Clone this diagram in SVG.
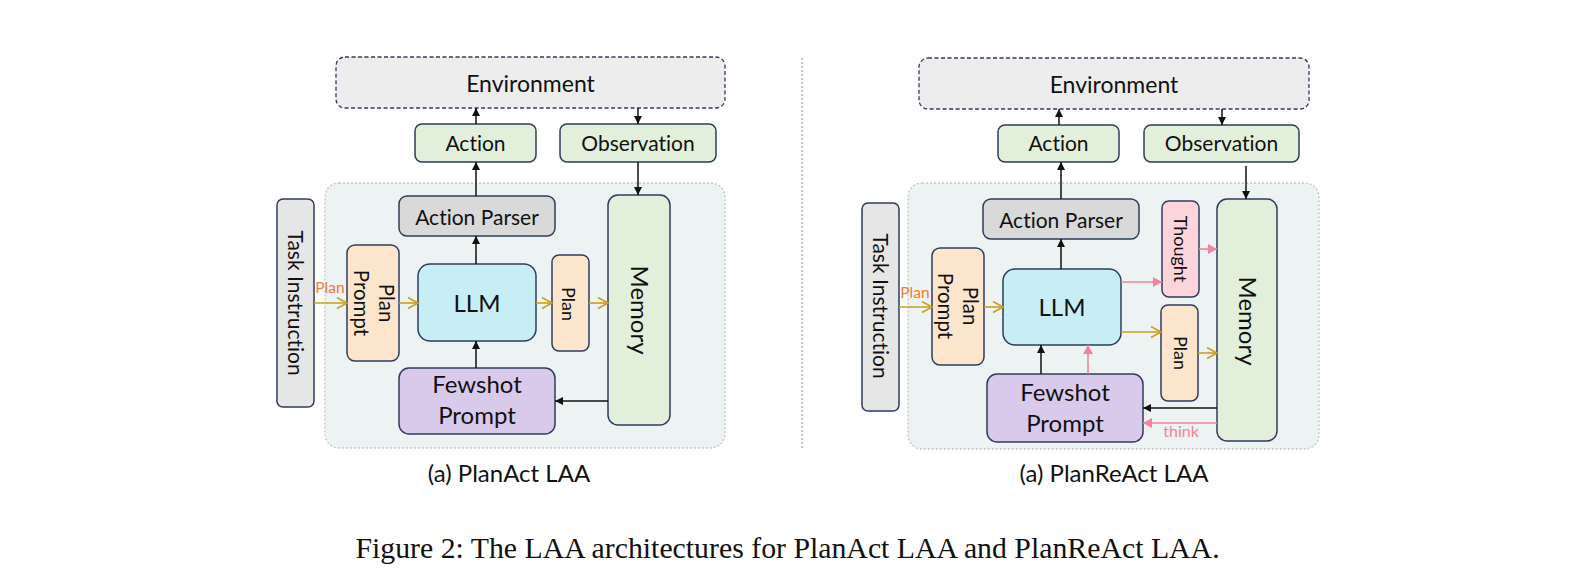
<svg xmlns="http://www.w3.org/2000/svg" width="1586" height="578" viewBox="0 0 1586 578">
<style>
.box{stroke:#2F3D5C;stroke-width:1.5}
.env{fill:#EDEDED;stroke:#2F3D5C;stroke-width:1.3;stroke-dasharray:4 2.5}
.green{fill:#E2EFDA}
.grey{fill:#D9D9D9}
.task{fill:#E7E6E6}
.peach{fill:#FBE5CD}
.cyan{fill:#C8EEF5}
.lav{fill:#D9CAEC}
.pink{fill:#FCD5DC}
.cont{fill:#EDF2F2;stroke:#C4C4C4;stroke-width:1.3;stroke-dasharray:2 2}
text{font-family:Lato,"Open Sans","Liberation Sans",sans-serif;fill:#111;text-anchor:middle;font-variant-ligatures:none}
.cap{font-family:"Liberation Serif","Times New Roman",serif;font-size:29.8px}
.k{stroke:#111;stroke-width:1.5;fill:none}
.g{stroke:#C9A01B;stroke-width:1.6;fill:none}
.p{stroke:#F4829C;stroke-width:1.6;fill:none}
</style>
<defs>
<marker id="ak" markerUnits="userSpaceOnUse" markerWidth="10" markerHeight="10" refX="8" refY="4" orient="auto"><path d="M0,0 L8,4 L0,8 z" fill="#111"/></marker>
<marker id="ap" markerUnits="userSpaceOnUse" markerWidth="12" markerHeight="12" refX="9" refY="5" orient="auto"><path d="M0,0 L9,5 L0,10 z" fill="#F4829C"/></marker>
<marker id="ag" markerUnits="userSpaceOnUse" markerWidth="14" markerHeight="14" refX="11" refY="6" orient="auto"><path d="M1,0.5 L11,6 L1,11.5" fill="none" stroke="#C9A01B" stroke-width="1.6"/></marker>
</defs>
<rect width="1586" height="578" fill="#fff"/>

<!-- ===== Left: PlanAct ===== -->
<g id="left-container"><rect class="cont" x="325" y="183" width="400" height="265" rx="14"/></g>
<g id="left-environment"><rect class="env" x="336" y="57" width="389" height="51" rx="9"/><text x="530.5" y="92" font-size="23">Environment</text></g>
<g id="left-action"><rect class="box green" x="415" y="124" width="121" height="38" rx="7"/><text x="475.5" y="151" font-size="21">Action</text></g>
<g id="left-observation"><rect class="box green" x="560" y="124" width="156" height="38" rx="7"/><text x="638" y="151" font-size="21">Observation</text></g>
<g id="left-action-parser"><rect class="box grey" x="399" y="196" width="156" height="40" rx="8"/><text x="477" y="225" font-size="21">Action Parser</text></g>
<g id="left-memory"><rect class="box green" x="608" y="195" width="62" height="230" rx="10"/><text transform="translate(639,310) rotate(90)" x="0" y="8.5" font-size="24">Memory</text></g>
<g id="left-task"><rect class="box task" x="277" y="199" width="37" height="208" rx="6"/><text transform="translate(295,303) rotate(90)" x="0" y="7.5" font-size="21">Task Instruction</text></g>
<g id="left-plan-prompt"><rect class="box peach" x="347" y="245" width="52" height="116" rx="8"/><text transform="translate(386,303) rotate(90)" x="0" y="7" font-size="20.5">Plan</text><text transform="translate(361,303) rotate(90)" x="0" y="7" font-size="20.5">Prompt</text></g>
<g id="left-llm"><rect class="box cyan" x="418" y="264" width="118" height="77" rx="12"/><text x="477" y="312" font-size="24">LLM</text></g>
<g id="left-plan"><rect class="box peach" x="552" y="255" width="37" height="96" rx="7"/><text transform="translate(568.5,304) rotate(90)" x="0" y="6.5" font-size="18">Plan</text></g>
<g id="left-fewshot"><rect class="box lav" x="399" y="368" width="156" height="66" rx="10"/><text x="477" y="393" font-size="24">Fewshot</text><text x="477" y="424" font-size="24">Prompt</text></g>
<g id="left-connectors">
<line class="k" x1="476" y1="124" x2="476" y2="108" marker-end="url(#ak)"/>
<line class="k" x1="638" y1="108" x2="638" y2="124" marker-end="url(#ak)"/>
<line class="k" x1="476" y1="196" x2="476" y2="162" marker-end="url(#ak)"/>
<line class="k" x1="638" y1="162" x2="638" y2="195" marker-end="url(#ak)"/>
<line class="k" x1="476" y1="264" x2="476" y2="236" marker-end="url(#ak)"/>
<line class="k" x1="476" y1="368" x2="476" y2="341" marker-end="url(#ak)"/>
<line class="k" x1="608" y1="401" x2="555" y2="401" marker-end="url(#ak)"/>
<line class="g" x1="314" y1="303" x2="347" y2="303" marker-end="url(#ag)"/>
<line class="g" x1="399" y1="303" x2="418" y2="303" marker-end="url(#ag)"/>
<line class="g" x1="536" y1="303" x2="552" y2="303" marker-end="url(#ag)"/>
<line class="g" x1="589" y1="303" x2="608" y2="303" marker-end="url(#ag)"/>
<text x="330" y="293" font-size="15.5" style="fill:#ED7D31">Plan</text>
</g>
<text x="509" y="482" font-size="24">(a) PlanAct LAA</text>

<!-- divider -->
<line x1="802" y1="58" x2="802" y2="450" stroke="#A8A8A8" stroke-width="1.3" stroke-dasharray="2 2"/>

<!-- ===== Right: PlanReAct ===== -->
<g id="right-container"><rect class="cont" x="908" y="183" width="411" height="266" rx="14"/></g>
<g id="right-environment"><rect class="env" x="919" y="58" width="390" height="51" rx="9"/><text x="1114" y="93" font-size="23">Environment</text></g>
<g id="right-action"><rect class="box green" x="998" y="125" width="121" height="37" rx="7"/><text x="1058.5" y="151" font-size="21">Action</text></g>
<g id="right-observation"><rect class="box green" x="1144" y="125" width="155" height="37" rx="7"/><text x="1221.5" y="151" font-size="21">Observation</text></g>
<g id="right-action-parser"><rect class="box grey" x="983" y="199" width="156" height="40" rx="8"/><text x="1061" y="228" font-size="21">Action Parser</text></g>
<g id="right-thought"><rect class="box pink" x="1162" y="201" width="37" height="96" rx="7"/><text transform="translate(1180,249) rotate(90)" x="0" y="6.5" font-size="18">Thought</text></g>
<g id="right-memory"><rect class="box green" x="1217" y="199" width="60" height="242" rx="10"/><text transform="translate(1247,321) rotate(90)" x="0" y="8.5" font-size="24">Memory</text></g>
<g id="right-task"><rect class="box task" x="862" y="203" width="37" height="208" rx="6"/><text transform="translate(880,306) rotate(90)" x="0" y="7.5" font-size="21">Task Instruction</text></g>
<g id="right-plan-prompt"><rect class="box peach" x="932" y="248" width="52" height="117" rx="8"/><text transform="translate(970,306) rotate(90)" x="0" y="7" font-size="20.5">Plan</text><text transform="translate(945,306) rotate(90)" x="0" y="7" font-size="20.5">Prompt</text></g>
<g id="right-llm"><rect class="box cyan" x="1003" y="269" width="118" height="76" rx="12"/><text x="1062" y="316" font-size="24">LLM</text></g>
<g id="right-plan"><rect class="box peach" x="1161" y="305" width="37" height="96" rx="7"/><text transform="translate(1180,353) rotate(90)" x="0" y="6.5" font-size="18">Plan</text></g>
<g id="right-fewshot"><rect class="box lav" x="987" y="374" width="156" height="68" rx="10"/><text x="1065" y="401" font-size="24">Fewshot</text><text x="1065" y="432" font-size="24">Prompt</text></g>
<g id="right-connectors">
<line class="k" x1="1059" y1="125" x2="1059" y2="109" marker-end="url(#ak)"/>
<line class="k" x1="1222" y1="109" x2="1222" y2="125" marker-end="url(#ak)"/>
<line class="k" x1="1061" y1="199" x2="1061" y2="162" marker-end="url(#ak)"/>
<line class="k" x1="1246" y1="166" x2="1246" y2="199" marker-end="url(#ak)"/>
<line class="k" x1="1061" y1="269" x2="1061" y2="239" marker-end="url(#ak)"/>
<line class="k" x1="1041" y1="374" x2="1041" y2="345" marker-end="url(#ak)"/>
<line class="p" x1="1088" y1="374" x2="1088" y2="345" marker-end="url(#ap)"/>
<line class="p" x1="1121" y1="282" x2="1162" y2="282" marker-end="url(#ap)"/>
<line class="p" x1="1199" y1="249" x2="1217" y2="249" marker-end="url(#ap)"/>
<line class="g" x1="899" y1="307" x2="932" y2="307" marker-end="url(#ag)"/>
<line class="g" x1="984" y1="307" x2="1003" y2="307" marker-end="url(#ag)"/>
<line class="g" x1="1121" y1="332" x2="1161" y2="332" marker-end="url(#ag)"/>
<line class="g" x1="1198" y1="353" x2="1217" y2="353" marker-end="url(#ag)"/>
<line class="k" x1="1217" y1="408" x2="1143" y2="408" marker-end="url(#ak)"/>
<line class="p" x1="1217" y1="423" x2="1143" y2="423" marker-end="url(#ap)"/>
<text x="915" y="298" font-size="15.5" style="fill:#ED7D31">Plan</text>
<text x="1181" y="437" font-size="16" style="fill:#F4829C">think</text>
</g>
<text x="1114" y="482" font-size="24">(a) PlanReAct LAA</text>

<text class="cap" x="787.5" y="558">Figure 2: The LAA architectures for PlanAct LAA and PlanReAct LAA.</text>
</svg>
